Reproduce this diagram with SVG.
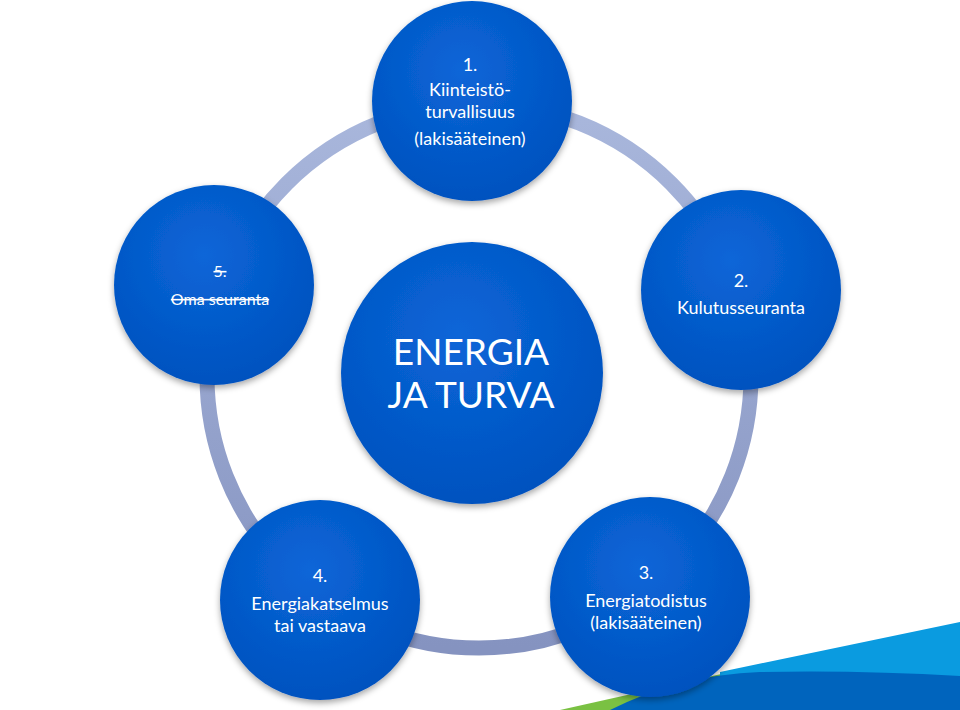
<svg xmlns="http://www.w3.org/2000/svg" width="960" height="710" viewBox="0 0 960 710">
<defs>
<linearGradient id="ring" x1="0" y1="0" x2="0" y2="1"><stop offset="0" stop-color="#a9b7dc"/><stop offset="1" stop-color="#8593c0"/></linearGradient>
<radialGradient id="ball" cx="0.45" cy="0.35" r="0.7"><stop offset="0" stop-color="#0a66d8"/><stop offset="1" stop-color="#0050bd"/></radialGradient>
<filter id="sh" x="-20%" y="-20%" width="140%" height="140%"><feDropShadow dx="0" dy="3" stdDeviation="3" flood-color="#000" flood-opacity="0.35"/></filter>
<style>
.n{fill:url(#ball);filter:url(#sh)}
.t{fill:#fff;font-family:Lato,"Open Sans",sans-serif;text-anchor:middle}
.s{font-size:18px}
</style>
</defs>
<rect width="960" height="710" fill="#fff"/>
<path d="M560 710 L730 672 L640 710 Z" fill="#7ac143"/>
<path d="M720 672 L960 622 L960 710 L720 710 Z" fill="#0a9be0"/>
<path d="M610 710 Q680 675 760 672 Q860 670 960 676 L960 710 Z" fill="#0064bd"/>
<g id="connectors"><circle cx="479" cy="376" r="272" fill="none" stroke="url(#ring)" stroke-width="15"/></g>
<g id="center"><circle class="n" cx="472" cy="373" r="131"/><text class="t" font-size="37" x="471" y="365">ENERGIA</text><text class="t" font-size="37" x="471" y="408">JA TURVA</text></g>
<g id="n1"><circle class="n" cx="472" cy="101" r="100"/><text class="t s" x="470" y="71">1.</text><text class="t s" x="470" y="96">Kiinteistö-</text><text class="t s" x="470" y="118">turvallisuus</text><text class="t s" x="470" y="145">(lakisääteinen)</text></g>
<g id="n2"><circle class="n" cx="741" cy="290" r="100"/><text class="t s" x="741" y="287">2.</text><text class="t s" x="741" y="314">Kulutusseuranta</text></g>
<g id="n3"><circle class="n" cx="650" cy="597" r="100"/><text class="t s" x="646" y="579">3.</text><text class="t s" x="646" y="607">Energiatodistus</text><text class="t s" x="646" y="629">(lakisääteinen)</text></g>
<g id="n4"><circle class="n" cx="320" cy="600" r="100"/><text class="t s" x="320" y="582">4.</text><text class="t s" x="320" y="610">Energiakatselmus</text><text class="t s" x="320" y="632">tai vastaava</text></g>
<g id="n5"><circle class="n" cx="214" cy="285" r="100"/><text class="t" font-size="16" x="220" y="277" text-decoration="line-through">5.</text><text class="t" font-size="16" x="220" y="305" text-decoration="line-through">Oma seuranta</text></g>
</svg>
